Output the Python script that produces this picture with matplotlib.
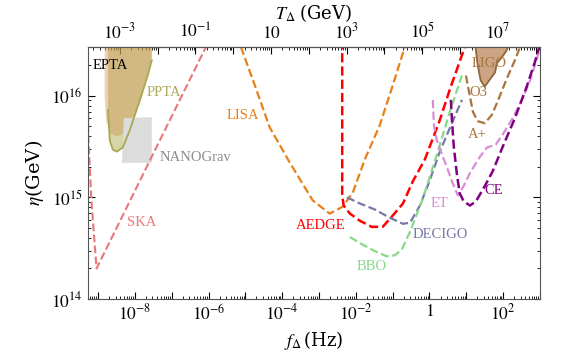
import numpy as np
import matplotlib
matplotlib.use("Agg")
import matplotlib.pyplot as plt
from matplotlib.ticker import LogLocator, FuncFormatter, NullFormatter

plt.rcParams['font.family'] = ['Liberation Serif', 'DejaVu Serif']
plt.rcParams['mathtext.fontset'] = 'stix'

# values, stored as log10(f/Hz) and log10(eta/GeV)
ska_logf = np.array([-9.29, -9.26, -9.18, -9.04, -6.07])
ska_logeta = np.array([16.48, 15.56, 14.97, 14.30, 16.48])

epta_logf = np.array([-8.82, -8.82, -8.78, -8.66, -8.50, -8.30, -8.10, -7.85, -7.60, -7.55, -7.55])
epta_logeta = np.array([16.60, 16.00, 15.75, 15.63, 15.60, 15.63, 15.73, 15.95, 16.25, 16.40, 16.60])

ppta_logf = np.array([-8.73, -8.73, -8.68, -8.60, -8.49, -8.33, -8.14, -7.86, -7.65, -7.54, -7.51])
ppta_logeta = np.array([16.60, 15.86, 15.56, 15.47, 15.45, 15.49, 15.66, 15.96, 16.20, 16.35, 16.60])

nano_logf = np.array([-8.30, -7.54, -7.54, -8.35])
nano_logeta = np.array([15.78, 15.79, 15.34, 15.34])

lisa_logf = np.array([-5.12, -4.74, -4.34, -3.79, -3.17, -2.71, -2.35, -2.08, -1.76, -1.35, -1.00, -0.67])
lisa_logeta = np.array([16.48, 16.10, 15.69, 15.34, 14.97, 14.84, 14.91, 15.05, 15.37, 15.71, 16.10, 16.48])

aedge_logf = np.array([-2.37, -2.37, -2.33, -2.16, -1.89, -1.57, -1.27, -1.00, -0.72, -0.45, -0.13, 0.28, 0.55, 0.96])
aedge_logeta = np.array([16.55, 15.02, 14.92, 14.84, 14.77, 14.71, 14.71, 14.82, 14.94, 15.16, 15.37, 15.76, 16.06, 16.48])

decigo_logf = np.array([-2.24, -1.89, -1.48, -1.08, -0.72, -0.53, -0.26, 0.01, 0.28, 0.55, 0.88])
decigo_logeta = np.array([15.00, 14.94, 14.88, 14.80, 14.74, 14.75, 14.92, 15.17, 15.45, 15.68, 15.96])

bbo_logf = np.array([-2.16, -1.84, -1.48, -1.16, -0.94, -0.75, -0.53, -0.18, 0.20, 0.55, 0.88])
bbo_logeta = np.array([14.61, 14.54, 14.47, 14.42, 14.43, 14.49, 14.66, 14.99, 15.42, 15.84, 16.20])

et_logf = np.array([0.09, 0.12, 0.20, 0.34, 0.47, 0.63, 0.77, 0.91, 1.10, 1.37, 1.56, 1.80,
                    1.99, 2.26, 2.51, 2.73, 2.92, 3.02])
et_logeta = np.array([15.96, 15.71, 15.56, 15.42, 15.30, 15.14, 15.02, 15.10, 15.24, 15.40, 15.49, 15.52,
                      15.62, 15.78, 15.96, 16.15, 16.37, 16.50])

ce_logf = np.array([0.58, 0.61, 0.66, 0.74, 0.82, 0.93, 1.10, 1.26, 1.50, 1.72, 1.99, 2.32, 2.64, 2.86, 3.00])
ce_logeta = np.array([15.96, 15.76, 15.50, 15.24, 15.04, 14.96, 14.92, 14.96, 15.11, 15.26, 15.50, 15.78,
                      16.09, 16.33, 16.50])

aplus_logf = np.array([0.99, 1.04, 1.10, 1.18, 1.31, 1.50, 1.69, 1.88, 2.10, 2.32, 2.48])
aplus_logeta = np.array([16.20, 16.10, 15.99, 15.84, 15.75, 15.73, 15.81, 15.97, 16.17, 16.35, 16.50])

ligo_logf = np.array([1.23, 1.26, 1.31, 1.39, 1.50, 1.64, 1.78, 1.83, 1.97, 2.10, 2.18])
ligo_logeta = np.array([16.55, 16.45, 16.30, 16.15, 16.09, 16.16, 16.23, 16.32, 16.38, 16.45, 16.55])

# label name, log f, log eta, colour, alignment
labels = [
    ("EPTA", -9.14, 16.30, "black", "left"),
    ("PPTA", -7.67, 16.03, "#abab5c", "left"),
    ("NANOGrav", -7.32, 15.39, "#8c8c8c", "left"),
    ("SKA", -8.22, 14.75, "#e8787a", "left"),
    ("LISA", -5.50, 15.81, "#e8801a", "left"),
    ("AEDGE", -2.95, 14.72, "red", "center"),
    ("DECIGO", 0.28, 14.63, "#7777aa", "center"),
    ("BBO", -1.57, 14.32, "#88d888", "center"),
    ("ET", 0.28, 14.94, "#d68fd6", "center"),
    ("CE", 1.75, 15.07, "#800080", "center"),
    ("A+", 1.29, 15.62, "#a8753f", "center"),
    ("LIGO", 1.61, 16.32, "#a8753f", "center"),
    ("O3", 1.34, 16.03, "#a8753f", "center"),
]

fig = plt.figure(figsize=(5.82, 3.64), dpi=100)
ax = fig.add_axes([0.1507, 0.1786, 0.7771, 0.6923])

ax.fill(10**epta_logf, 10**epta_logeta, color="#e8a070", alpha=0.5, lw=0, zorder=1)
ax.fill(10**ppta_logf, 10**ppta_logeta, color="#a8a040", alpha=0.45, lw=0, zorder=1)
ax.plot(10**ppta_logf[1:-1], 10**ppta_logeta[1:-1], color="#a8a850", lw=1.3, zorder=2)
ax.fill(10**nano_logf, 10**nano_logeta, color="#dcdcdc", lw=0, zorder=1)
ax.fill(10**ligo_logf, 10**ligo_logeta, facecolor="#cba584", edgecolor="#94643a", lw=1.3, zorder=1)

ax.plot(10**ska_logf, 10**ska_logeta, "--", color="#e8787a", lw=1.5)
ax.plot(10**lisa_logf, 10**lisa_logeta, "--", color="#e8801a", lw=1.6)
ax.plot(10**decigo_logf, 10**decigo_logeta, "--", color="#7777aa", lw=1.6)
ax.plot(10**bbo_logf, 10**bbo_logeta, "--", color="#88d888", lw=1.6)
ax.plot(10**aedge_logf, 10**aedge_logeta, "--", color="red", lw=1.8)
ax.plot(10**et_logf, 10**et_logeta, "--", color="#d68fd6", lw=1.6)
ax.plot(10**ce_logf, 10**ce_logeta, "--", color="#800080", lw=1.8)
ax.plot(10**aplus_logf, 10**aplus_logeta, "--", color="#a8753f", lw=1.6)

for name, lf, le, c, ha in labels:
    ax.text(10**lf, 10**le, name, color=c, ha=ha, va="center", fontsize=10.5, zorder=5)

ax.set_xscale("log")
ax.set_yscale("log")
ax.set_xlim(10**-9.28, 1e3)
ax.set_ylim(1e14, 10**16.48)


def fmt(v, pos):
    n = int(round(np.log10(v)))
    if n == 0:
        return "$1$"
    if n == 1:
        return "$10$"
    return "$10^{%d}$" % n


def fmt_even(v, pos):
    n = int(round(np.log10(v)))
    return fmt(v, pos) if n % 2 == 0 else ""


def fmt_odd(v, pos):
    n = int(round(np.log10(v)))
    return fmt(v, pos) if (n % 2 != 0 and -3 <= n <= 7) else ""


ax.xaxis.set_major_locator(LogLocator(base=10, numticks=30))
ax.xaxis.set_minor_locator(LogLocator(base=10, subs=np.arange(2, 10), numticks=30))
ax.xaxis.set_major_formatter(FuncFormatter(fmt_even))
ax.xaxis.set_minor_formatter(NullFormatter())
ax.yaxis.set_major_locator(LogLocator(base=10, numticks=10))
ax.yaxis.set_minor_locator(LogLocator(base=10, subs=np.arange(2, 10), numticks=10))
ax.yaxis.set_major_formatter(FuncFormatter(fmt))
ax.yaxis.set_minor_formatter(NullFormatter())
ax.tick_params(which="both", direction="in", right=True, labelsize=12.5)
ax.tick_params(which="major", length=5)
ax.tick_params(which="minor", length=2.5)

# f = 10**b * T**a  (T in GeV)
a, b = 1.027, -5.33
sec = ax.secondary_xaxis("top", functions=(lambda f: (np.clip(f, 1e-30, None) / 10**b) ** (1 / a),
                                           lambda T: 10**b * np.clip(T, 1e-30, None) ** a))
sec.xaxis.set_major_locator(LogLocator(base=10, numticks=30))
sec.xaxis.set_minor_locator(LogLocator(base=10, subs=np.arange(2, 10), numticks=30))
sec.xaxis.set_major_formatter(FuncFormatter(fmt_odd))
sec.xaxis.set_minor_formatter(NullFormatter())
sec.tick_params(which="both", direction="in", labelsize=12.5)
sec.tick_params(which="major", length=5)
sec.tick_params(which="minor", length=2.5)
sec.set_xlabel(r"$T_\Delta\ $(GeV)", fontsize=13, labelpad=2, family="DejaVu Serif")

for s in ax.spines.values():
    s.set_color("#555555")

ax.set_xlabel(r"$f_\Delta\,$(Hz)", fontsize=13, family="DejaVu Serif")
ax.set_ylabel(r"$\eta$(GeV)", fontsize=14, family="DejaVu Serif")

fig.savefig("out.png", dpi=100)
